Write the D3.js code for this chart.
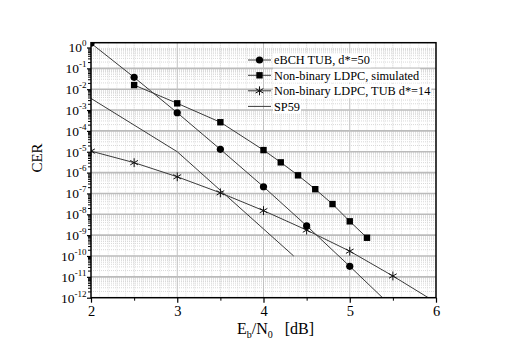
<!DOCTYPE html>
<html><head><meta charset="utf-8">
<script src="https://cdn.jsdelivr.net/npm/d3@7"></script>
<style>
html,body{margin:0;padding:0;background:#fff;}
svg{display:block;font-family:"Liberation Serif","Times New Roman",serif;}
</style></head>
<body>
<svg id="chart" width="507" height="357"></svg>
<script>
// ---- data ----
const seriesNames = ["eBCH TUB, d*=50", "Non-binary LDPC, simulated", "Non-binary LDPC, TUB d*=14", "SP59"];
const ebchX = [2, 2.5, 3, 3.5, 4, 4.5, 5, 5.38];
const ebchY = [1.6, 3.7e-2, 7.4e-4, 1.3e-5, 2.1e-7, 2.8e-9, 3.2e-11, 1e-12];
const ebchMarkers = 7; // last point is line-only
const ldpcX = [2.5, 3, 3.5, 4, 4.2, 4.4, 4.6, 4.8, 5.0, 5.2];
const ldpcY = [1.58e-2, 2.1e-3, 2.6e-4, 1.2e-5, 3.1e-6, 7.4e-7, 1.6e-7, 3.1e-8, 4.6e-9, 7.5e-10];
const tubX = [2, 2.5, 3, 3.5, 4, 4.5, 5, 5.5, 5.91];
const tubY = [1.07e-5, 3.0e-6, 6.3e-7, 1.07e-7, 1.5e-8, 1.75e-9, 1.7e-10, 1.1e-11, 1e-12];
const tubMarkers = 8;
const sp59X = [2, 3, 4.35];
const sp59Y = [3.6e-3, 1e-5, 1e-10];
const xTicks = [2, 3, 4, 5, 6];
const yExponents = [0, -1, -2, -3, -4, -5, -6, -7, -8, -9, -10, -11, -12];

// ---- layout ----
const L = 91, R = 436, T = 42.7, B = 297.7;
const svg = d3.select("#chart");
const x = d3.scaleLinear().domain([2, 6]).range([L, R]);
const y = d3.scaleLog().domain([1e-12, Math.pow(10, 0.23)]).range([B, T]);

svg.append("defs").append("clipPath").attr("id", "clip")
  .append("rect").attr("x", L).attr("y", T).attr("width", R - L).attr("height", B - T);

const grid = svg.append("g");
// minor vertical grid (0.1)
const xMinor = d3.range(21, 60).map(d => d / 10).filter(d => Math.abs(d - Math.round(d)) > 1e-6);
grid.selectAll(".vmin").data(xMinor).join("line")
  .attr("x1", d => x(d)).attr("x2", d => x(d)).attr("y1", T).attr("y2", B)
  .attr("stroke", d => Math.abs(d * 2 - Math.round(d * 2)) < 1e-6 ? "#cfcfcf" : "#e6e6e6")
  .attr("stroke-width", 1).attr("stroke-dasharray", "1,1");
// minor horizontal grid
const yMinor = [];
yExponents.forEach(e => { if (e > -12) for (let k = 2; k <= 9; k++) yMinor.push(k * Math.pow(10, e - 1)); });
grid.selectAll(".hmin").data(yMinor).join("line")
  .attr("x1", L).attr("x2", R).attr("y1", d => y(d)).attr("y2", d => y(d))
  .attr("stroke", "#d8d8d8").attr("stroke-width", 1).attr("stroke-dasharray", "1,1");
// major grid
grid.selectAll(".hmaj").data(yExponents.filter(e => e > -12 && e < 0)).join("line")
  .attr("x1", L).attr("x2", R).attr("y1", d => y(Math.pow(10, d))).attr("y2", d => y(Math.pow(10, d)))
  .attr("stroke", "#bbbbbb").attr("stroke-width", 1.6);
grid.selectAll(".vmaj").data(xTicks.slice(1, -1)).join("line")
  .attr("x1", d => x(d)).attr("x2", d => x(d)).attr("y1", T).attr("y2", B)
  .attr("stroke", "#c2c2c2").attr("stroke-width", 1);

// ---- series ----
const plot = svg.append("g").attr("clip-path", "url(#clip)");
const line = d3.line().x(d => x(d[0])).y(d => y(d[1]));
const zip = (a, b) => a.map((v, i) => [v, b[i]]);
const lineColor = "#3a3a3a";
[[ebchX, ebchY], [ldpcX, ldpcY], [tubX, tubY], [sp59X, sp59Y]].forEach(([xs, ys]) => {
  plot.append("path").datum(zip(xs, ys)).attr("d", line)
    .attr("fill", "none").attr("stroke", lineColor).attr("stroke-width", 1);
});
const star = d3.symbol().type(d3.symbolAsterisk).size(55);
plot.selectAll(".tub").data(zip(tubX, tubY).slice(0, tubMarkers)).join("path")
  .attr("transform", d => `translate(${x(d[0])},${y(d[1])})`).attr("d", star)
  .attr("fill", "none").attr("stroke", "#111").attr("stroke-width", 1);
plot.selectAll(".ebch").data(zip(ebchX, ebchY).slice(0, ebchMarkers)).join("circle")
  .attr("cx", d => x(d[0])).attr("cy", d => y(d[1])).attr("r", 3.6).attr("fill", "#000");
const sq = 6.4;
plot.selectAll(".ldpc").data(zip(ldpcX, ldpcY)).join("rect")
  .attr("x", d => x(d[0]) - sq / 2).attr("y", d => y(d[1]) - sq / 2)
  .attr("width", sq).attr("height", sq).attr("fill", "#000");

// ---- axes ----
const ax = svg.append("g");
// y axis
const yAxis = ax.append("g").attr("transform", `translate(${L},0)`)
  .call(d3.axisLeft(y).tickValues(yExponents.map(e => Math.pow(10, e))).tickSize(4).tickPadding(4).tickFormat(() => ""));
yAxis.select(".domain").remove();
yAxis.selectAll(".tick line").attr("stroke", "#000").attr("stroke-width", 1.2);
yAxis.selectAll(".tick text").remove();
const yMinAxis = ax.append("g").attr("transform", `translate(${L},0)`)
  .call(d3.axisLeft(y).tickValues(yMinor).tickSize(3).tickFormat(() => ""));
yMinAxis.select(".domain").remove();
yMinAxis.selectAll(".tick line").attr("stroke", "#000").attr("stroke-width", 1);
// y labels
const ylab = ax.append("g");
yExponents.forEach(e => {
  const t = ylab.append("text").attr("x", 86.5).attr("y", y(Math.pow(10, e)) + 4.8)
    .attr("text-anchor", "end").attr("font-size", 13.5).attr("fill", "#000");
  t.append("tspan").text("10");
  t.append("tspan").attr("dy", -6).attr("font-size", 9).text(String(e));
});
// x axis
const xAxis = ax.append("g").attr("transform", `translate(0,${B})`)
  .call(d3.axisBottom(x).tickValues(xTicks).tickSize(5).tickPadding(3).tickFormat(d3.format("d")));
xAxis.select(".domain").remove();
xAxis.selectAll(".tick line").attr("stroke", "#000").attr("stroke-width", 1.2);
xAxis.selectAll(".tick text").attr("font-size", 14.5).attr("font-family", "Liberation Serif").attr("fill", "#000");
const xMinAxis = ax.append("g").attr("transform", `translate(0,${B})`)
  .call(d3.axisBottom(x).tickValues([2.5, 3.5, 4.5, 5.5]).tickSize(3).tickFormat(() => ""));
xMinAxis.select(".domain").remove();
xMinAxis.selectAll(".tick line").attr("stroke", "#000");
// frame
ax.append("rect").attr("x", L).attr("y", T).attr("width", R - L).attr("height", B - T)
  .attr("fill", "none").attr("stroke", "#000").attr("stroke-width", 1.5);

// axis titles
svg.append("text").attr("transform", "translate(42,158) rotate(-90)")
  .attr("text-anchor", "middle").attr("font-size", 15).text("CER");
const xt = svg.append("text").attr("x", 237).attr("y", 334).attr("font-size", 16);
xt.append("tspan").text("E");
xt.append("tspan").attr("dy", 4).attr("font-size", 10).text("b");
xt.append("tspan").attr("dy", -4).text("/N");
xt.append("tspan").attr("dy", 4).attr("font-size", 10).text("0");
xt.append("tspan").attr("dy", -4).attr("dx", 12).text("[dB]");

// ---- legend ----
const legY = [60, 75.3, 90.8, 106.4];
const leg = svg.append("g");
seriesNames.forEach((name, i) => {
  const g = leg.append("g");
  const txt = g.append("text").attr("x", 274).attr("y", legY[i] + 4.3).attr("font-size", 12.3).text(name);
  const bb = txt.node().getBBox();
  g.insert("rect", "text").attr("x", bb.x - 1).attr("y", bb.y).attr("width", bb.width + 2).attr("height", bb.height).attr("fill", "#fff");
  g.append("line").attr("x1", 248).attr("x2", 271).attr("y1", legY[i]).attr("y2", legY[i])
    .attr("stroke", lineColor).attr("stroke-width", 1);
  if (i === 0) g.append("circle").attr("cx", 259.5).attr("cy", legY[i]).attr("r", 3.6).attr("fill", "#000");
  if (i === 1) g.append("rect").attr("x", 259.5 - sq / 2).attr("y", legY[i] - sq / 2).attr("width", sq).attr("height", sq).attr("fill", "#000");
  if (i === 2) g.append("path").attr("transform", `translate(259.5,${legY[i]})`).attr("d", star)
    .attr("fill", "none").attr("stroke", "#111");
});
</script>
</body></html>
